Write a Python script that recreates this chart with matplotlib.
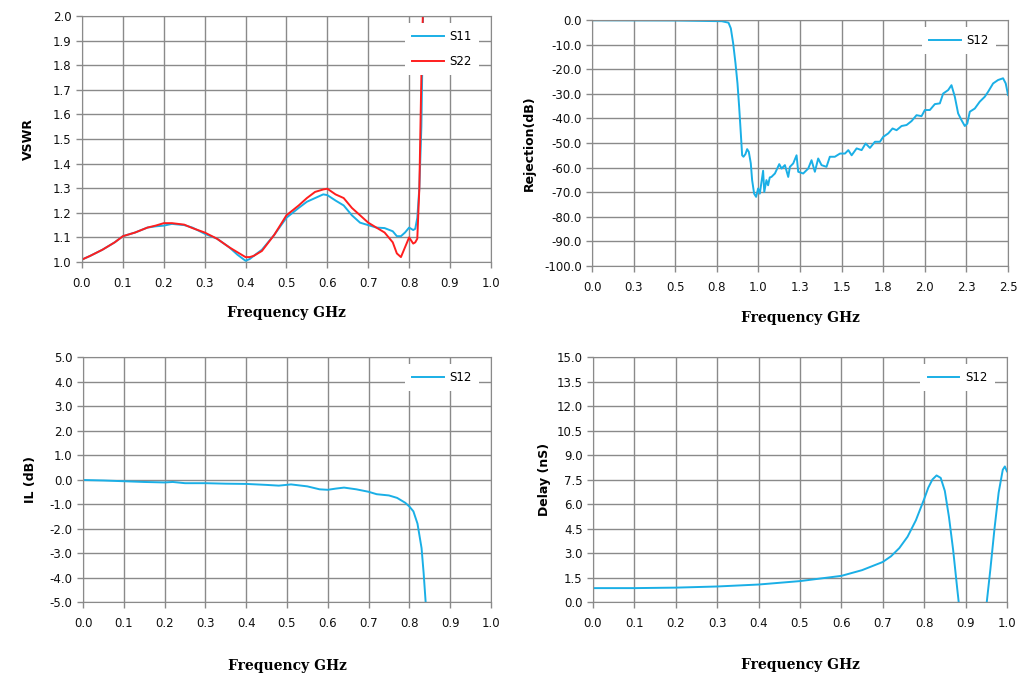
import numpy as np
import matplotlib.pyplot as plt
from matplotlib.ticker import FixedLocator

# VSWR (top left)
vswr_f = [0.0, 0.02, 0.05, 0.08, 0.10, 0.13, 0.16, 0.18, 0.20, 0.22, 0.25, 0.27, 0.30,
          0.33, 0.36, 0.38, 0.40, 0.41, 0.42, 0.44, 0.47, 0.50, 0.53, 0.55, 0.57, 0.59,
          0.60, 0.62, 0.64, 0.66, 0.68, 0.70, 0.72, 0.74, 0.76, 0.77, 0.78, 0.79, 0.80,
          0.81, 0.815, 0.82, 0.825, 0.83, 0.835, 0.84]
s11_vswr = [1.01, 1.025, 1.05, 1.08, 1.105, 1.12, 1.14, 1.145, 1.148, 1.155, 1.15, 1.14, 1.115,
            1.095, 1.06, 1.03, 1.005, 1.012, 1.025, 1.05, 1.11, 1.18, 1.22, 1.245, 1.26, 1.275,
            1.272, 1.25, 1.23, 1.19, 1.16, 1.15, 1.14, 1.138, 1.125, 1.105, 1.105, 1.12, 1.14,
            1.13, 1.135, 1.18, 1.30, 1.55, 2.10, 2.5]
s22_vswr = [1.01, 1.025, 1.05, 1.08, 1.105, 1.12, 1.14, 1.148, 1.158, 1.158, 1.152, 1.138, 1.12,
            1.095, 1.06, 1.04, 1.02, 1.02, 1.025, 1.045, 1.11, 1.19, 1.23, 1.26, 1.285, 1.295,
            1.298, 1.275, 1.26, 1.22, 1.19, 1.16, 1.14, 1.12, 1.08, 1.035, 1.02, 1.06, 1.10,
            1.075, 1.08, 1.095, 1.30, 1.76, 2.10, 2.5]

# Rejection (top right)
rej_f = [0.0, 0.5, 0.78, 0.82, 0.834, 0.848, 0.862, 0.874, 0.884, 0.894, 0.902, 0.91, 0.922,
         0.932, 0.942, 0.954, 0.962, 0.974, 0.986, 0.998, 1.008, 1.018, 1.028, 1.035, 1.048,
         1.058, 1.068, 1.078, 1.099, 1.125, 1.139, 1.159, 1.179, 1.189, 1.209, 1.229, 1.239,
         1.269, 1.299, 1.319, 1.339, 1.359, 1.379, 1.409, 1.429, 1.459, 1.49, 1.52, 1.54,
         1.56, 1.59, 1.62, 1.644, 1.67, 1.70, 1.73, 1.75, 1.78, 1.806, 1.83, 1.86, 1.89,
         1.92, 1.95, 1.98, 2.0, 2.03, 2.06, 2.09, 2.11, 2.14, 2.16, 2.18, 2.2, 2.22, 2.24,
         2.255, 2.27, 2.30, 2.33, 2.36, 2.38, 2.41, 2.44, 2.47, 2.486, 2.5]
rej_db = [-0.1, -0.2, -0.5, -1.1, -3.4, -9.5, -17.6, -25.8, -35.3, -46.1, -55.0, -55.6, -54.5,
          -52.5, -53.6, -58.3, -65.1, -70.6, -71.9, -68.5, -70.6, -66.0, -61.3, -69.9, -65.1,
          -67.2, -64.0, -63.8, -62.4, -58.6, -60.4, -59.0, -63.8, -59.7, -58.3, -55.0, -61.7,
          -62.4, -60.4, -57.0, -61.7, -56.3, -59.0, -59.7, -55.6, -55.6, -54.3, -54.3, -52.9,
          -55.0, -52.2, -52.9, -50.2, -52.0, -49.5, -49.5, -47.5, -46.1, -44.1, -44.8, -43.1,
          -42.7, -41.1, -38.7, -39.1, -36.6, -36.6, -34.2, -33.9, -29.9, -28.5, -26.5, -31.2,
          -38.0, -40.7, -43.1, -42.1, -37.3, -36.0, -33.2, -31.2, -29.2, -25.8, -24.4, -23.7,
          -25.8, -30.5]

# Insertion loss (bottom left)
il_f = [0.0, 0.05, 0.10, 0.15, 0.20, 0.22, 0.25, 0.30, 0.35, 0.40, 0.45, 0.48, 0.51, 0.55,
        0.58, 0.60, 0.62, 0.64, 0.67, 0.70, 0.72, 0.75, 0.77, 0.79, 0.80, 0.81, 0.82, 0.83,
        0.835, 0.84, 0.845]
il_db = [-0.02, -0.04, -0.07, -0.10, -0.12, -0.10, -0.15, -0.15, -0.17, -0.18, -0.22, -0.25,
         -0.20, -0.28, -0.40, -0.42, -0.37, -0.33, -0.40, -0.50, -0.60, -0.65, -0.75, -0.95,
         -1.10, -1.30, -1.80, -2.80, -3.80, -5.00, -6.00]

# Group delay (bottom right)
dl_f = [0.0, 0.1, 0.2, 0.3, 0.4, 0.5, 0.6, 0.65, 0.70, 0.72, 0.74, 0.76, 0.78, 0.80, 0.81,
        0.82, 0.83, 0.84, 0.85, 0.86, 0.87, 0.88, 0.89, 0.94, 0.95, 0.96, 0.97, 0.98, 0.99,
        0.995, 1.0]
dl_ns = [0.85, 0.85, 0.88, 0.95, 1.07, 1.28, 1.60, 1.95, 2.45, 2.80, 3.30, 4.00, 5.00, 6.30,
         7.00, 7.50, 7.75, 7.60, 6.80, 5.20, 3.20, 0.80, -1.50, -1.50, -0.30, 2.00, 4.50, 6.70,
         8.10, 8.30, 8.00]

CYAN = '#1aafe6'
RED = '#ff1e1e'
GRID = '#8a8a8a'

fig = plt.figure(figsize=(10.3, 6.82), dpi=100)

def style(ax, xt, xl, yt, yl, ylabel, ypad, xpad):
    ax.set_xlim(xt[0], xt[-1])
    ax.set_ylim(yt[0], yt[-1])
    ax.xaxis.set_major_locator(FixedLocator(xt))
    ax.yaxis.set_major_locator(FixedLocator(yt))
    ax.set_xticklabels(xl)
    ax.set_yticklabels(yl)
    ax.grid(True, color=GRID, linewidth=1.0)
    ax.set_axisbelow(True)
    for s in ax.spines.values():
        s.set_color(GRID)
    ax.tick_params(colors=GRID, labelcolor='#101010', labelsize=8.5, length=4, width=1.0)
    ax.tick_params(axis='x', pad=7)
    ax.set_ylabel(ylabel, fontsize=9, fontweight='bold', labelpad=ypad)
    ax.set_xlabel('Frequency GHz', fontsize=10, fontweight='bold',
                  family='DejaVu Serif', labelpad=xpad)

def leg(ax):
    return ax.legend(loc='upper right', bbox_to_anchor=(0.985, 0.995), fontsize=8.5,
                     frameon=True, fancybox=False, edgecolor='none', facecolor='white',
                     framealpha=1, handlelength=2.7, handletextpad=0.5,
                     labelspacing=1.0, borderpad=0.6)

f01 = [round(0.1 * i, 1) for i in range(11)]
f01_l = [f'{v:.1f}' for v in f01]

# top left
ax1 = fig.add_axes([0.0796, 0.6158, 0.397, 0.3607])
ax1.plot(vswr_f, s11_vswr, color=CYAN, lw=1.4, label='S11')
ax1.plot(vswr_f, s22_vswr, color=RED, lw=1.4, label='S22')
vs_t = [1.0 + 0.1 * i for i in range(11)]
style(ax1, f01, f01_l, vs_t, [f'{v:.1f}' for v in vs_t], 'VSWR', 13, 11)
leg(ax1)

# top right
ax2 = fig.add_axes([0.5748, 0.6100, 0.4039, 0.3607])
ax2.plot(rej_f, rej_db, color=CYAN, lw=1.4, label='S12')
rj_xt = [0.25 * i for i in range(11)]
rj_xl = ['0.0', '0.3', '0.5', '0.8', '1.0', '1.3', '1.5', '1.8', '2.0', '2.3', '2.5']
rj_yt = [-100 + 10 * i for i in range(11)]
style(ax2, rj_xt, rj_xl, rj_yt, [f'{v:.1f}' for v in rj_yt], 'Rejection(dB)', 6, 12)
leg(ax2)

# bottom left
ax3 = fig.add_axes([0.0806, 0.1173, 0.396, 0.3592])
ax3.plot(il_f, il_db, color=CYAN, lw=1.4, label='S12')
il_yt = [-5 + i for i in range(11)]
style(ax3, f01, f01_l, il_yt, [f'{v:.1f}' for v in il_yt], 'IL (dB)', 9, 21)
leg(ax3)

# bottom right
ax4 = fig.add_axes([0.5757, 0.1173, 0.4019, 0.3592])
ax4.plot(dl_f, dl_ns, color=CYAN, lw=1.4, label='S12')
dl_yt = [1.5 * i for i in range(11)]
style(ax4, f01, f01_l, dl_yt, [f'{v:.1f}' for v in dl_yt], 'Delay (nS)', 4, 20)
leg(ax4)

fig.savefig('out.png', dpi=100)
